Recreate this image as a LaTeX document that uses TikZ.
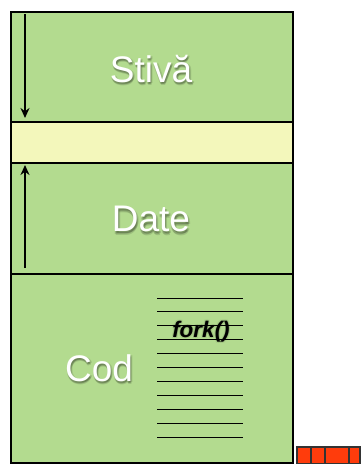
\documentclass[tikz,border=0pt]{standalone}
\usepackage{fontspec}
\setmainfont{Liberation Sans}
\usetikzlibrary{arrows.meta}
\definecolor{segGreen}{RGB}{179,219,143}
\definecolor{segYellow}{RGB}{243,247,187}
\definecolor{segRed}{RGB}{255,60,12}
\tikzset{
  region/.style={draw=black, line width=2pt, fill=segGreen, anchor=north west, inner sep=0pt, minimum width=282pt},
  seglabel/.style={text=white, font=\fontsize{37}{40}\selectfont, inner sep=0pt},
  segshadow/.style={text=black, text opacity=0.12, font=\fontsize{37}{40}\selectfont, inner sep=0pt},
  codeline/.style={draw=black, line width=0.9pt},
  growarrow/.style={draw=black, line width=1.6pt, -{Stealth[length=10pt,width=9pt]}},
  redcell/.style={draw=black!80, line width=1.5pt, fill=segRed, anchor=north west, inner sep=0pt, minimum height=17pt},
  forklabel/.style={font=\bfseries\itshape\fontsize{22.5}{24}\selectfont, inner sep=0pt}
}
\begin{document}
\begin{tikzpicture}[x=1pt,y=-1pt]
\useasboundingbox (0,0) rectangle (362,464);
% regions
\node[region, minimum height=110pt] (stiva) at (10,11) {};
\node[region, minimum height=41pt, fill=segYellow] (liber) at (10,121) {};
\node[region, minimum height=111pt] (date) at (10,162) {};
\node[region, minimum height=189pt] (cod) at (10,273) {};
% labels with soft shadow
\foreach \dx/\dy in {1/2,0/2.5,2/1.5,1/3.5}{
  \node[segshadow] at (151+\dx,69+\dy) {Stivă};
  \node[segshadow] at (151+\dx,219+\dy) {Date};
  \node[segshadow] at (99+\dx,368+\dy) {Cod};
}
\node[seglabel] (lstiva) at (151,69) {Stivă};
\node[seglabel] (ldate) at (151,219) {Date};
\node[seglabel] (lcod) at (99,368) {Cod};
% growth arrows
\coordinate (s1) at (25,14);
\coordinate (s2) at (25,118);
\coordinate (d1) at (25,268);
\coordinate (d2) at (25,165);
\draw[growarrow] (s1) -- (s2);
\draw[growarrow] (d1) -- (d2);
% code lines
\foreach \i in {0,...,10}{
  \coordinate (cl\i) at (157,298+13.9*\i);
  \coordinate (cr\i) at (243,298+13.9*\i);
  \draw[codeline] (cl\i) -- (cr\i);
}
\foreach \dx/\dy in {0/0,1/1,-1/1,1/-1,-1/-1}{
  \node[forklabel, text=black, text opacity=0.08] at (201+\dx,332+\dy) {fork()};
}
\node[forklabel] (fork) at (201,332) {fork()};
% red bar
\node[redcell, minimum width=14pt] (r1) at (296,446) {};
\node[redcell, minimum width=14pt] (r2) at (310,446) {};
\node[redcell, minimum width=24pt] (r3) at (324,446) {};
\node[redcell, minimum width=11pt] (r4) at (348,446) {};
\end{tikzpicture}
\end{document}
